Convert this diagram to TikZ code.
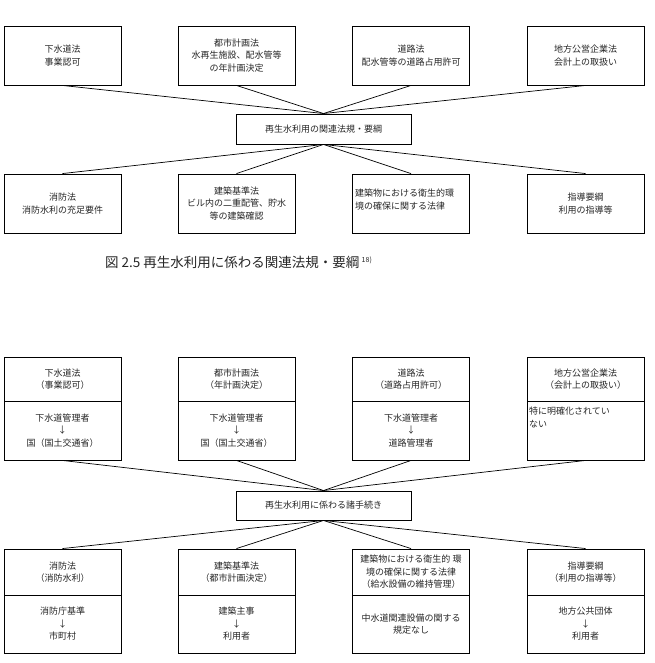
\documentclass[tikz,border=0pt]{standalone}
\usepackage{fontspec}
\setmainfont{Noto Sans CJK JP}
\begin{document}
\begin{tikzpicture}[x=1pt,y=-1pt,
  box/.style={draw, line width=0.9pt, inner sep=1pt, align=center,
    minimum width=117pt, font=\fontsize{9}{12.5}\selectfont, text=black!85},
  txt/.style={inner sep=0pt, align=left, font=\fontsize{9}{12.5}\selectfont, text=black!85},
  conn/.style={line width=0.7pt}]
\useasboundingbox (0,0) rectangle (654,663);

% ---------- upper figure ----------
\node[box, minimum height=59pt] (t1) at (62.5,55.5) {下水道法\\事業認可};
\node[box, minimum height=59pt] (t2) at (236.5,55.5) {都市計画法\\水再生施設、配水管等\\の年計画決定};
\node[box, minimum height=59pt] (t3) at (411,55.5) {道路法\\配水管等の道路占用許可};
\node[box, minimum height=59pt] (t4) at (585.5,55.5) {地方公営企業法\\会計上の取扱い};

\node[box, minimum width=175pt, minimum height=30pt] (c1) at (323.5,129) {再生水利用の関連法規・要綱};

\node[box, minimum height=59pt] (b1) at (62.5,203.5) {消防法\\消防水利の充足要件};
\node[box, minimum height=59pt] (b2) at (236.5,203.5) {建築基準法\\ビル内の二重配管、貯水\\等の建築確認};
\node[box, minimum height=59pt] (b3) at (411,203.5) {};
\node[txt, anchor=north west] (b3t) at (355,189) {建築物における衛生的環\\境の確保に関する法律};
\node[box, minimum height=59pt] (b4) at (585.5,203.5) {指導要綱\\利用の指導等};

\foreach \n in {t1,t2,t3,t4} \draw[conn] (\n.south) -- (c1.north);
\foreach \n in {b1,b2,b3,b4} \draw[conn] (c1.south) -- (\n.north);

\node[anchor=west, inner sep=0pt, font=\fontsize{13.5}{16}\selectfont, text=black!85] (cap) at (105,262)
  {図 2.5 再生水利用に係わる関連法規・要綱\,\raisebox{0.6ex}{\fontsize{7}{8}\selectfont 18)}};

% ---------- lower figure ----------
\node[box, minimum height=44pt] (u1h) at (62.5,379) {下水道法\\（事業認可）};
\node[box, minimum height=59pt] (u1b) at (62.5,430.5) {下水道管理者\\↓\\国（国土交通省）};
\node[box, minimum height=44pt] (u2h) at (236.5,379) {都市計画法\\（年計画決定）};
\node[box, minimum height=59pt] (u2b) at (236.5,430.5) {下水道管理者\\↓\\国（国土交通省）};
\node[box, minimum height=44pt] (u3h) at (411,379) {道路法\\（道路占用許可）};
\node[box, minimum height=59pt] (u3b) at (411,430.5) {下水道管理者\\↓\\道路管理者};
\node[box, minimum height=44pt] (u4h) at (585.5,379) {地方公営企業法\\（会計上の取扱い）};
\node[box, minimum height=59pt] (u4b) at (585.5,430.5) {};
\node[txt, anchor=north west] (u4t) at (529,407) {特に明確化されてい\\ない};

\node[box, minimum width=175pt, minimum height=29pt] (c2) at (323.5,505.5) {再生水利用に係わる諸手続き};

\node[box, minimum height=46pt] (l1h) at (62.5,572) {消防法\\（消防水利）};
\node[box, minimum height=58pt] (l1b) at (62.5,624) {消防庁基準\\↓\\市町村};
\node[box, minimum height=46pt] (l2h) at (236.5,572) {建築基準法\\（都市計画決定）};
\node[box, minimum height=58pt] (l2b) at (236.5,624) {建築主事\\↓\\利用者};
\node[box, minimum height=46pt] (l3h) at (411,572) {建築物における衛生的 環\\境の確保に関する法律\\（給水設備の維持管理）};
\node[box, minimum height=58pt] (l3b) at (411,624) {中水道関連設備の関する\\規定なし};
\node[box, minimum height=46pt] (l4h) at (585.5,572) {指導要綱\\（利用の指導等）};
\node[box, minimum height=58pt] (l4b) at (585.5,624) {地方公共団体\\↓\\利用者};

\foreach \n in {u1b,u2b,u3b,u4b} \draw[conn] (\n.south) -- (c2.north);
\foreach \n in {l1h,l2h,l3h,l4h} \draw[conn] (c2.south) -- (\n.north);
\end{tikzpicture}
\end{document}
